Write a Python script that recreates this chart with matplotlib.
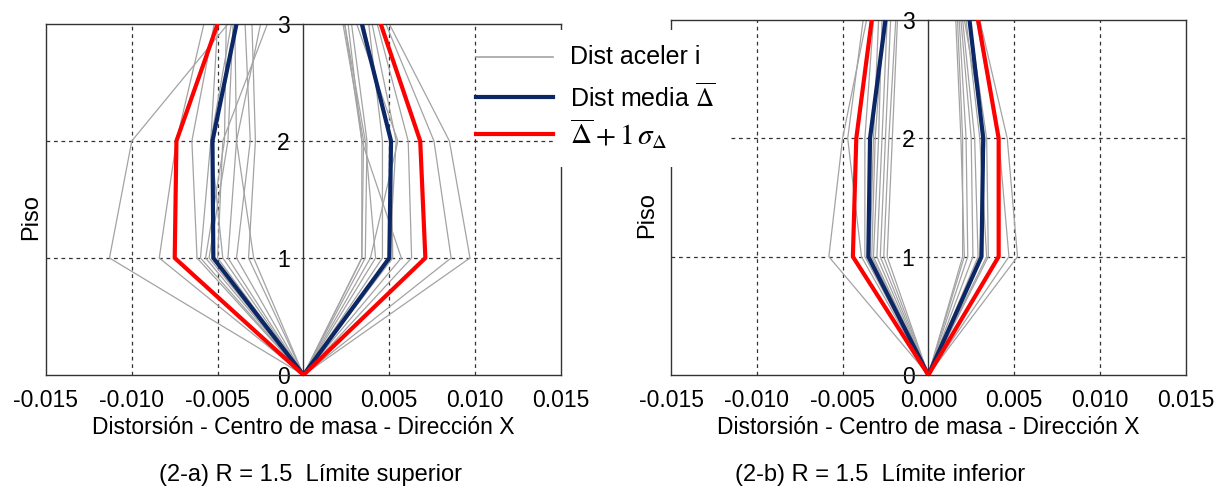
import numpy as np
import matplotlib.pyplot as plt
from matplotlib.patches import Rectangle
from matplotlib.lines import Line2D

plt.rcParams['font.family'] = ['Liberation Sans', 'DejaVu Sans']
plt.rcParams['mathtext.fontset'] = 'stix'
plt.rcParams['axes.unicode_minus'] = False

pisos = [0, 1, 2, 3]
xticks = [-0.015, -0.010, -0.005, 0.000, 0.005, 0.010, 0.015]
xlabels = ['-0.015', '-0.010', '-0.005', '0.000', '0.005', '0.010', '0.015']
ylabels = ['0', '1', '2', '3']

# distorsiones por registro en pisos 1, 2, 3 (piso 0 = 0)
a_neg = [[-0.0113, -0.0100, -0.0044],
         [-0.0084, -0.0074, -0.0058],
         [-0.0062, -0.0065, -0.0052],
         [-0.0060, -0.0054, -0.0050],
         [-0.0057, -0.0046, -0.0045],
         [-0.0055, -0.0044, -0.0041],
         [-0.0047, -0.0054, -0.0042],
         [-0.0044, -0.0039, -0.0040],
         [-0.0039, -0.0031, -0.0034],
         [-0.0032, -0.0028, -0.0030],
         [-0.0029, -0.0039, -0.0025],
         [-0.0050, -0.0047, -0.0021]]
a_pos = [[0.0097, 0.0085, 0.0050],
         [0.0086, 0.0076, 0.0048],
         [0.0063, 0.0061, 0.0043],
         [0.0057, 0.0034, 0.0024],
         [0.0050, 0.0054, 0.0040],
         [0.0046, 0.0046, 0.0038],
         [0.0039, 0.0055, 0.0031],
         [0.0036, 0.0037, 0.0028],
         [0.0034, 0.0034, 0.0026],
         [0.0034, 0.0035, 0.0023],
         [0.0042, 0.0036, 0.0024],
         [0.0052, 0.0051, 0.0035]]
a_media = [[-0.00525, -0.0053, -0.0039], [0.0050, 0.0051, 0.0034]]
a_sigma = [[-0.0075, -0.0074, -0.0050], [0.0071, 0.0068, 0.0045]]

b_neg = [[-0.0058, -0.0050, -0.0036],
         [-0.0039, -0.0047, -0.0038],
         [-0.0037, -0.0037, -0.0032],
         [-0.0034, -0.0032, -0.0029],
         [-0.0032, -0.0029, -0.0027],
         [-0.0030, -0.0027, -0.0024],
         [-0.0028, -0.0025, -0.0022],
         [-0.0026, -0.0023, -0.0019],
         [-0.0024, -0.0021, -0.0018],
         [-0.0033, -0.0031, -0.0026]]
b_pos = [[0.0052, 0.0046, 0.0030],
         [0.0047, 0.0041, 0.0028],
         [0.0035, 0.0034, 0.0024],
         [0.0034, 0.0030, 0.0022],
         [0.0029, 0.0027, 0.0020],
         [0.0026, 0.0025, 0.0019],
         [0.0023, 0.0022, 0.0018],
         [0.0020, 0.0020, 0.0017],
         [0.0021, 0.0019, 0.0016],
         [0.0030, 0.0033, 0.0021]]
b_media = [[-0.0035, -0.0034, -0.0025], [0.0031, 0.0032, 0.0024]]
b_sigma = [[-0.0044, -0.0042, -0.0033], [0.0041, 0.0041, 0.0029]]

gris = '#a3a3a3'
azul = '#0c2766'
rojo = '#ff0000'

fig = plt.figure(figsize=(12.19, 4.93), dpi=100)
ax1 = fig.add_axes([0.0377, 0.2394, 0.4225, 0.712])
ax2 = fig.add_axes([0.5505, 0.2394, 0.4221, 0.720])


def panel(ax, neg, pos, media, sigma):
    for r in neg + pos:
        ax.plot([0] + r, pisos, color=gris, lw=0.9, zorder=2)
    for r in media:
        ax.plot([0] + r, pisos, color=azul, lw=3.0, zorder=3)
    for r in sigma:
        ax.plot([0] + r, pisos, color=rojo, lw=3.0, zorder=4)
    ax.set_xlim(-0.015, 0.015)
    ax.set_ylim(0, 3)
    for x in xticks[1:-1]:
        if x != 0:
            ax.axvline(x, color='#333333', lw=0.9, ls=(0, (3, 3)), zorder=1)
    for y in pisos[1:3]:
        ax.axhline(y, color='#333333', lw=0.9, ls=(0, (3, 3)), zorder=1)
    ax.axvline(-0.015, color='#333333', lw=1.0, clip_on=False, zorder=1)
    ax.spines['left'].set_position(('data', 0))
    for s in ax.spines.values():
        s.set_color('#333333')
        s.set_linewidth(1.0)
    ax.set_xticks(xticks)
    ax.set_xticklabels(xlabels)
    ax.set_yticks(pisos)
    ax.set_yticklabels(ylabels)
    ax.tick_params(axis='both', length=0, labelsize=16.5)
    ax.tick_params(axis='x', pad=10)
    ax.tick_params(axis='y', pad=10)
    ax.set_xlabel('Distorsión - Centro de masa - Dirección X', fontsize=16.5, labelpad=3)
    ax.set_ylabel('Piso', fontsize=17)


panel(ax1, a_neg, a_pos, a_media, a_sigma)
panel(ax2, b_neg, b_pos, b_media, b_sigma)
ax1.yaxis.set_label_coords(-0.008, 0.45)
ax2.yaxis.set_label_coords(-0.025, 0.45)

fig.text(0.255, 0.036, '(2-a) R = 1.5  Límite superior', fontsize=17, ha='center', va='center')
fig.text(0.722, 0.036, '(2-b) R = 1.5  Límite inferior', fontsize=17, ha='center', va='center')

# leyenda
fig.add_artist(Rectangle((0.4553, 0.6613), 0.1444, 0.2779, transform=fig.transFigure,
                         facecolor='white', edgecolor='none', zorder=5))
ley_y = [0.8844, 0.8032, 0.7282]
ley_c = [gris, azul, rojo]
ley_w = [1.2, 3.0, 3.0]
ley_t = ['Dist aceler i', r'Dist media $\overline{\Delta}$', r'$\overline{\Delta}+1\,\sigma_{\Delta}$']
for y, c, w, t in zip(ley_y, ley_c, ley_w, ley_t):
    fig.add_artist(Line2D([0.3905, 0.4537], [y, y], transform=fig.transFigure,
                          color=c, lw=w, zorder=6))
    fig.text(0.4676, y, t, fontsize=18 if 'sigma' not in t else 21, ha='left', va='center', zorder=7)

fig.savefig('out.png', dpi=100)
